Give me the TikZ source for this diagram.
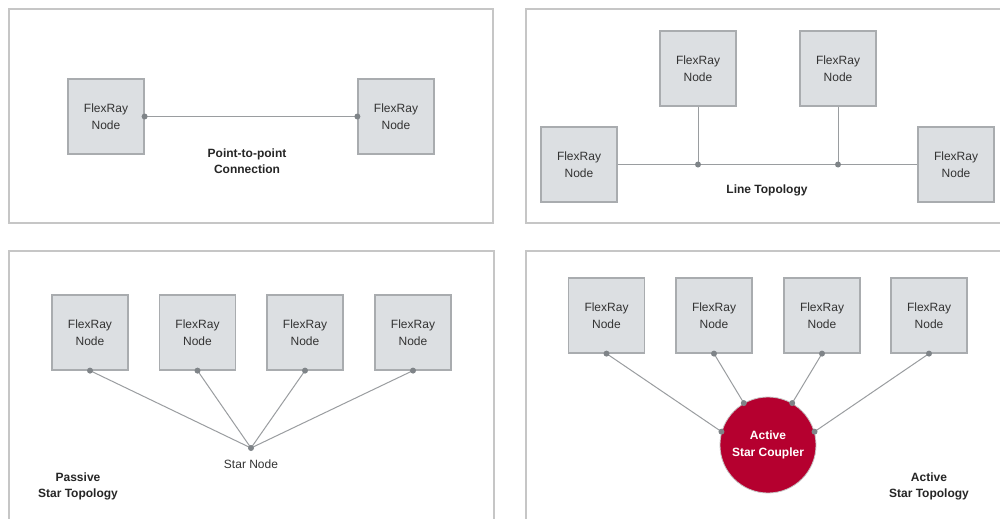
\documentclass[tikz,border=0pt]{standalone}
\usepackage{fontspec}
\setmainfont{Liberation Sans}
\definecolor{framegray}{HTML}{C6C6C6}
\definecolor{nodefill}{HTML}{DCDFE2}
\definecolor{nodeborder}{HTML}{A9ACAF}
\definecolor{wiregray}{HTML}{9A9DA0}
\definecolor{dotgray}{HTML}{7F8488}
\definecolor{textgray}{HTML}{333333}
\definecolor{crimson}{HTML}{B5002F}
\begin{document}
\begin{tikzpicture}[x=0.75pt,y=-0.75pt,
  frame/.style={draw=framegray, line width=1.1pt},
  flex/.style={draw=nodeborder, fill=nodefill, minimum width=57pt, minimum height=56.25pt, inner sep=0pt, align=center, font=\fontsize{9}{12.75}\selectfont, text=textgray, line width=0.9pt},
  wire/.style={draw=wiregray, line width=0.75pt},
  dotc/.style={circle, fill=dotgray, inner sep=0pt, minimum size=4.5pt},
  lbl/.style={font=\bfseries\fontsize{9}{12}\selectfont, align=center, text=black!85},
  plain/.style={font=\fontsize{9}{12}\selectfont, align=center, text=textgray},
  coupler/.style={circle, fill=crimson, draw=framegray, line width=0.6pt, minimum size=72pt, inner sep=0pt, align=center, text=white, font=\bfseries\fontsize{9}{12.75}\selectfont}
]
\useasboundingbox (0,0) rectangle (1000,518);
\fill[white] (0,0) rectangle (1000,518);
% frames
\draw[frame] (9,9) rectangle (493,223);
\draw[frame] (526,9) rectangle (1012,223);
\draw[frame] (9,251) rectangle (494,530);
\draw[frame] (526,251) rectangle (1012,530);

% Panel 1
\node[flex] (pa) at (106,116.5) {FlexRay\\Node};
\node[flex] (pb) at (396,116.5) {FlexRay\\Node};
\draw[wire] (pa.east) -- (pb.west);
\node[dotc] (pad) at (pa.east) {};
\node[dotc] (pbd) at (pb.west) {};
\node[lbl] (plbl) at (247,161.5) {Point-to-point\\Connection};

% Panel 2
\node[flex] (la) at (579,164.5) {FlexRay\\Node};
\node[flex] (lb) at (698,68.5) {FlexRay\\Node};
\node[flex] (lc) at (838,68.5) {FlexRay\\Node};
\node[flex] (ld) at (956,164.5) {FlexRay\\Node};
\coordinate (j1) at (698,164.5);
\coordinate (j2) at (838,164.5);
\draw[wire] (la.east) -- (ld.west);
\draw[wire] (lb.south) -- (j1);
\draw[wire] (lc.south) -- (j2);
\node[dotc] (j1d) at (j1) {};
\node[dotc] (j2d) at (j2) {};
\node[lbl] (llbl) at (767,190) {Line Topology};

% Panel 3
\node[flex] (sa) at (90,332.5) {FlexRay\\Node};
\node[flex] (sb) at (197.5,332.5) {FlexRay\\Node};
\node[flex] (sc) at (305,332.5) {FlexRay\\Node};
\node[flex] (sd) at (413,332.5) {FlexRay\\Node};
\coordinate (st) at (251,448);
\foreach \n in {sa,sb,sc,sd}{
  \draw[wire] (\n.south) -- (st);
  \node[dotc] at (\n.south) {};
}
\node[dotc] (std) at (st) {};
\node[plain] (stl) at (251,464) {Star Node};
\node[lbl] (slbl) at (78,486) {Passive\\Star Topology};

% Panel 4
\node[flex] (aa) at (606.5,315.5) {FlexRay\\Node};
\node[flex] (ab) at (714,315.5) {FlexRay\\Node};
\node[flex] (ac) at (822,315.5) {FlexRay\\Node};
\node[flex] (ad) at (929,315.5) {FlexRay\\Node};
\node[coupler] (cp) at (768,445) {Active\\Star Coupler};
\draw[wire] (aa.south) -- (cp.164);
\draw[wire] (ab.south) -- (cp.120);
\draw[wire] (ac.south) -- (cp.60);
\draw[wire] (ad.south) -- (cp.16);
\foreach \p in {aa.south,ab.south,ac.south,ad.south,cp.164,cp.120,cp.60,cp.16}{
  \node[dotc] at (\p) {};
}
\node[lbl] (albl) at (929,486) {Active\\Star Topology};
\end{tikzpicture}
\end{document}
